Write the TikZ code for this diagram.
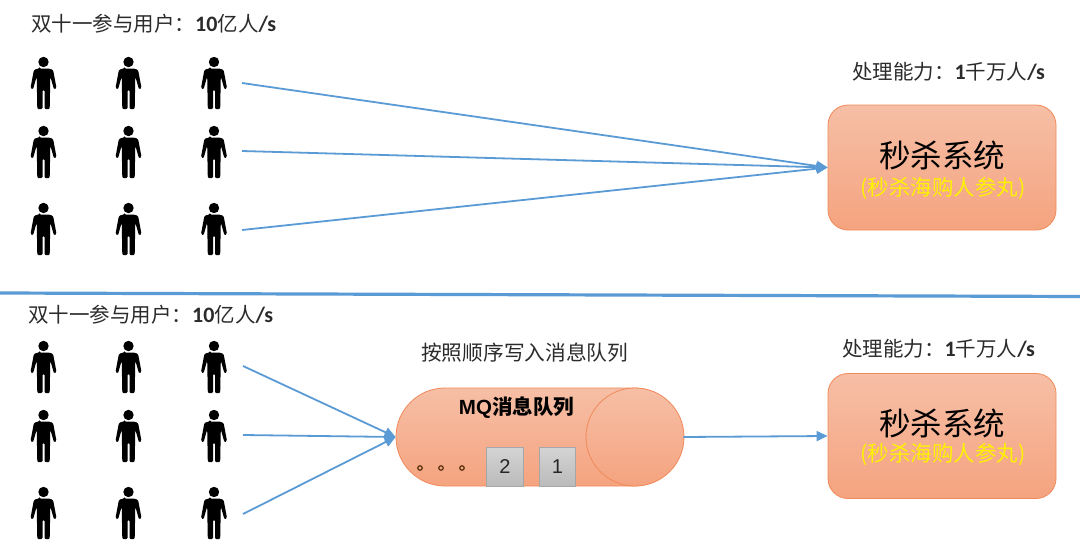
\documentclass[tikz,border=0pt]{standalone}
\usepackage{fontspec}
\setmainfont{Carlito}
\newfontfamily\cjk{Noto Sans CJK SC}
\newfontfamily\arialf{Liberation Sans}
\usetikzlibrary{arrows.meta,shapes.misc}
\definecolor{txt}{HTML}{2B2B2B}
\definecolor{blueline}{HTML}{5B9BD5}
\definecolor{orangeedge}{HTML}{F08A5A}
\definecolor{boxtop}{HTML}{F6BFA6}
\definecolor{boxbot}{HTML}{F5A37F}
\tikzset{
  x=1pt,y=-1pt,
  link/.style={draw=blueline,line width=1.8pt,-{Triangle[length=11pt,width=10pt]}},
  caption/.style={anchor=west,inner sep=0pt,text=txt,font=\fontsize{20.5}{22}\selectfont},
  sysbox/.style={draw=orangeedge,line width=0.8pt,rounded corners=20pt,minimum width=228pt,minimum height=125pt,
    top color=boxtop,bottom color=boxbot,inner sep=0pt},
  sysmain/.style={inner sep=0pt,text=black,font=\cjk\fontsize{31.5}{33}\selectfont},
  syssub/.style={inner sep=0pt,text=yellow,font=\cjk\fontsize{21.5}{23}\selectfont},
  cell/.style={draw=black!35,line width=0.8pt,top color=black!17,bottom color=black!27,inner sep=0pt,text=black!85,
    font=\arialf\fontsize{20}{22}\selectfont},
  dotmark/.style={circle,draw=black!70!orange,line width=1.1pt,minimum size=4.5pt,inner sep=0pt},
}
\newcommand{\personfig}[2]{%
  \begin{scope}[shift={(#1,#2)}]
    \fill[black] (0,0) circle (5.2);
    \fill[black,rounded corners=1.2pt]
      (-4,6.5) -- (4,6.5) .. controls (8,6.8) and (9.5,8) .. (10,10) -- (13,26) -- (10.5,27.5)
      -- (6.8,14.5) -- (6.2,47) -- (1,47) -- (1,28) -- (-1,28) -- (-1,47) -- (-6.2,47) -- (-6.8,14.5)
      -- (-10.5,27.5) -- (-13,26) -- (-10,10) .. controls (-9.5,8) and (-8,6.8) .. (-4,6.5) -- cycle;
  \end{scope}}
\newcommand{\usercaption}[3]{{\cjk #1}{\fontsize{22}{22}\selectfont\textbf{#2}}{\cjk #3}{\fontsize{22}{22}\selectfont\textbf{/s}}}
\begin{document}
\begin{tikzpicture}
\useasboundingbox (0,0) rectangle (1080,560);
\fill[white] (0,0) rectangle (1080,560);
% people
\foreach \py in {62,131,208,346,415,492}{
  \foreach \px in {43.5,128.5,214}{\personfig{\px}{\py}}}
% separator
\coordinate (sepL) at (0,293);
\coordinate (sepR) at (1080,296.5);
\draw[blueline,line width=3.2pt] (sepL) -- (sepR);
% captions
\node[caption] (capA) at (31,24) {\usercaption{双十一参与用户：}{10}{亿人}};
\node[caption] (capB) at (852,72) {\usercaption{处理能力：}{1}{千万人}};
\node[caption] (capC) at (28,315) {\usercaption{双十一参与用户：}{10}{亿人}};
\node[caption] (capD) at (842,349) {\usercaption{处理能力：}{1}{千万人}};
\node[caption,font=\cjk\fontsize{20.7}{22}\selectfont] (capE) at (421,353) {按照顺序写入消息队列};
% system boxes
\node[sysbox] (sysA) at (942,167.5) {};
\node[sysmain] (sysAm) at (942,155.5) {秒杀系统};
\node[syssub] (sysAs) at (943,189) {(秒杀海购人参丸)};
\node[sysbox] (sysB) at (942,436) {};
\node[sysmain] (sysBm) at (942,423.5) {秒杀系统};
\node[syssub] (sysBs) at (943,455) {(秒杀海购人参丸)};
% queue
\node[rounded rectangle,draw=orangeedge,line width=0.8pt,top color=boxtop,bottom color=boxbot,
      minimum width=287pt,minimum height=98pt,inner sep=0pt] (mq) at (539.5,437) {};
\node[circle,draw=orangeedge,line width=0.8pt,top color=boxtop,bottom color=boxbot,
      minimum size=98pt,inner sep=0pt] (mqend) at (635,437) {};
\node[inner sep=0pt,text=black,font=\bfseries\fontsize{20.5}{22}\selectfont] (mqt) at (516.5,408)
  {{\arialf\bfseries MQ}{\cjk\bfseries 消息队列}};
\node[cell,minimum width=37pt,minimum height=38.5pt] (c2) at (505,467) {2};
\node[cell,minimum width=36pt,minimum height=38.5pt] (c1) at (557.5,467) {1};
\node[dotmark] (d1) at (420,468) {};
\node[dotmark] (d2) at (441,468) {};
\node[dotmark] (d3) at (462,468) {};
% connectors
\coordinate (a1) at (242,83);
\coordinate (a2) at (242,151);
\coordinate (a3) at (242,230);
\coordinate (b1) at (243,366);
\coordinate (b2) at (243,435);
\coordinate (b3) at (243,514);
\draw[link] (a1) -- (sysA.west);
\draw[link] (a2) -- (sysA.west);
\draw[link] (a3) -- (sysA.west);
\draw[link] (b1) -- (mq.west);
\draw[link] (b2) -- (mq.west);
\draw[link] (b3) -- (mq.west);
\draw[link] (mq.east) -- (sysB.west);
\end{tikzpicture}
\end{document}
